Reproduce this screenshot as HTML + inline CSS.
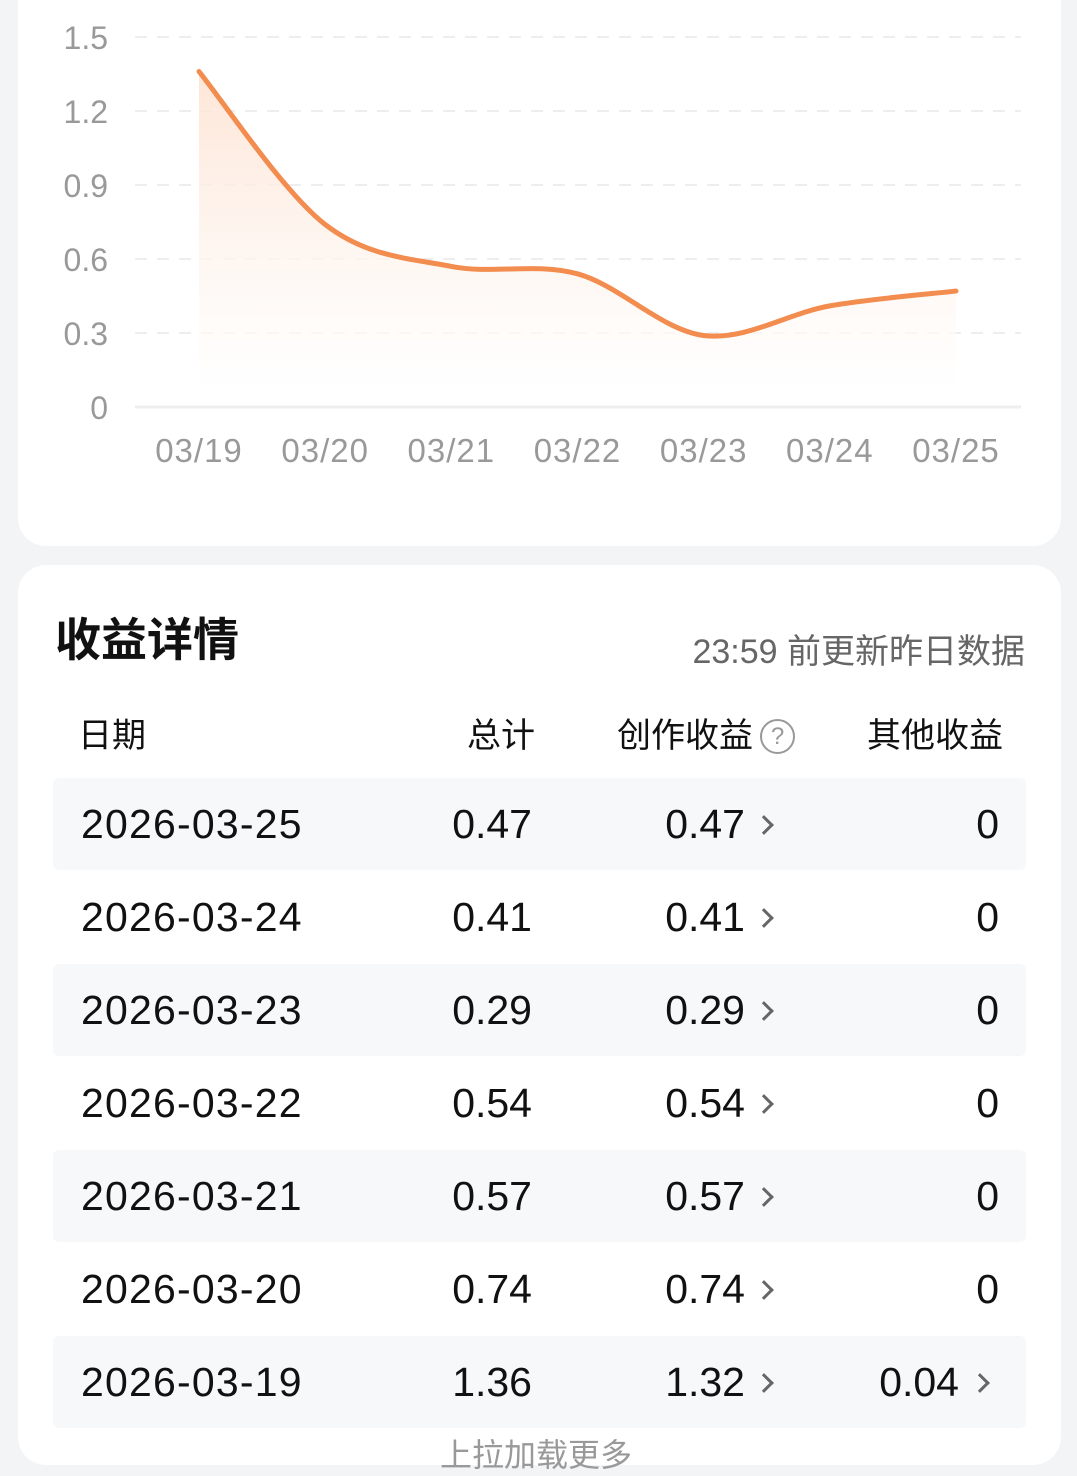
<!DOCTYPE html>
<html><head><meta charset="utf-8"><style>
body{margin:0;width:1077px;height:1437px;overflow:hidden;background:#f3f4f6;font-family:"Liberation Sans","Noto Sans CJK SC",sans-serif;position:relative}
.card{position:absolute;left:18px;width:1043px;background:#fff;border-radius:28px}
.abs{position:absolute;white-space:nowrap}
.cell{position:absolute;font-size:41px;color:#111;line-height:46px}
.chev{position:absolute;width:11px;height:11px;border-right:3px solid #666;border-top:3px solid #666;transform:rotate(45deg)}
.hdr{position:absolute;font-size:34px;color:#111;top:716px;line-height:40px}
</style></head><body>
<div class="card" style="top:-30px;height:576px"></div>
<svg id="chart" class="abs" style="left:0;top:0" width="1077" height="500"></svg>
<div class="card" style="top:565px;height:900px"></div>
<div class="abs" style="left:55px;top:604px;font-size:46px;font-weight:bold;color:#111">收益详情</div>
<div class="abs" style="right:52px;top:624px;font-size:34px;color:#666">23:59 前更新昨日数据</div>
<div class="hdr" style="left:78px">日期</div>
<div class="hdr" style="right:542px">总计</div>
<div class="hdr" style="left:617px">创作收益</div>
<div class="abs" style="left:760px;top:719px;width:31px;height:31px;border:2px solid #999;border-radius:50%;color:#999;font-size:24px;line-height:31px;text-align:center">?</div>
<div class="hdr" style="right:74px">其他收益</div>
<div id="rows"></div>
<div class="abs" style="left:440px;top:1430px;font-size:32px;color:#999">上拉加载更多</div>
<script>
const dates=["03/19","03/20","03/21","03/22","03/23","03/24","03/25"];
const values=[1.36,0.74,0.57,0.54,0.29,0.41,0.47];
const yTicks=[0,0.3,0.6,0.9,1.2,1.5];
const yTickLabels=["0","0.3","0.6","0.9","1.2","1.5"];
const rowDates=["2026-03-25","2026-03-24","2026-03-23","2026-03-22","2026-03-21","2026-03-20","2026-03-19"];
const rowTotal=["0.47","0.41","0.29","0.54","0.57","0.74","1.36"];
const rowCreation=["0.47","0.41","0.29","0.54","0.57","0.74","1.32"];
const rowOther=["0","0","0","0","0","0","0.04"];

const NS="http://www.w3.org/2000/svg";
const svg=document.getElementById('chart');
const x=i=>199+i*(956-199)/(dates.length-1);
const y=v=>407-v*(407-37)/1.5;
function mk(t,a){const e=document.createElementNS(NS,t);for(const k in a)e.setAttribute(k,a[k]);svg.appendChild(e);return e;}
const defs=mk('defs',{});
defs.innerHTML='<linearGradient id="g" x1="0" y1="0" x2="0" y2="1"><stop offset="0" stop-color="#fde3d3" stop-opacity="0.9"/><stop offset="1" stop-color="#fff" stop-opacity="0.6"/></linearGradient>';
yTicks.forEach((t,i)=>{
  const l=mk('line',{x1:135,x2:1021,y1:y(t),y2:y(t),stroke:'#eee','stroke-width':t===0?3:2,'stroke-dasharray':t===0?'':'12,10'});
  
  
  const tx=mk('text',{x:108,y:y(t)+12,'text-anchor':'end','font-size':32,fill:'#999'});
  tx.textContent=yTickLabels[i];
  
  
});
dates.forEach((d,i)=>{
  const tx=mk('text',{x:x(i),y:462,'text-anchor':'middle','font-size':33,fill:'#999','letter-spacing':1});
  tx.textContent=d;
  
  
});
const pts=values.map((v,i)=>[x(i),y(v)]);
let d=`M${pts[0][0]},${pts[0][1]}`;
for(let i=0;i<pts.length-1;i++){
  const p0=pts[Math.max(0,i-1)],p1=pts[i],p2=pts[i+1],p3=pts[Math.min(pts.length-1,i+2)];
  const c1=[p1[0]+(p2[0]-p0[0])/6,p1[1]+(p2[1]-p0[1])/6],c2=[p2[0]-(p3[0]-p1[0])/6,p2[1]-(p3[1]-p1[1])/6];
  d+=` C${c1[0]},${c1[1]} ${c2[0]},${c2[1]} ${p2[0]},${p2[1]}`;
}
const area=mk('path',{d:d+` L${pts[pts.length-1][0]},390 L${pts[0][0]},390 Z`,fill:'url(#g)'});


const line=mk('path',{d:d,fill:'none',stroke:'#f28c4f','stroke-width':5,'stroke-linecap':'round'});



const rows=document.getElementById('rows');
rowDates.forEach((rd,i)=>{
  const top=778+i*93;
  const r=document.createElement('div');
  r.className='abs';
  r.style.cssText=`left:53px;top:${top}px;width:973px;height:92px;border-radius:6px;background:${i%2===0?'#f7f8fa':'#fff'}`;
  
  
  const ty=23;
  r.innerHTML=`<div class="cell" style="left:28px;top:${ty}px;letter-spacing:1.2px">${rd}</div>
<div class="cell" style="right:494px;top:${ty}px">${rowTotal[i]}</div>
<div class="cell" style="right:281px;top:${ty}px">${rowCreation[i]}</div>
<div class="chev" style="left:704px;top:40px"></div>
<div class="cell" style="right:${rowOther[i]==='0'?27:67}px;top:${ty}px">${rowOther[i]}</div>
${rowOther[i]!=='0'?`<div class="chev" style="left:920px;top:40px"></div>`:''}`;
  rows.appendChild(r);
});
</script>
</body></html>
